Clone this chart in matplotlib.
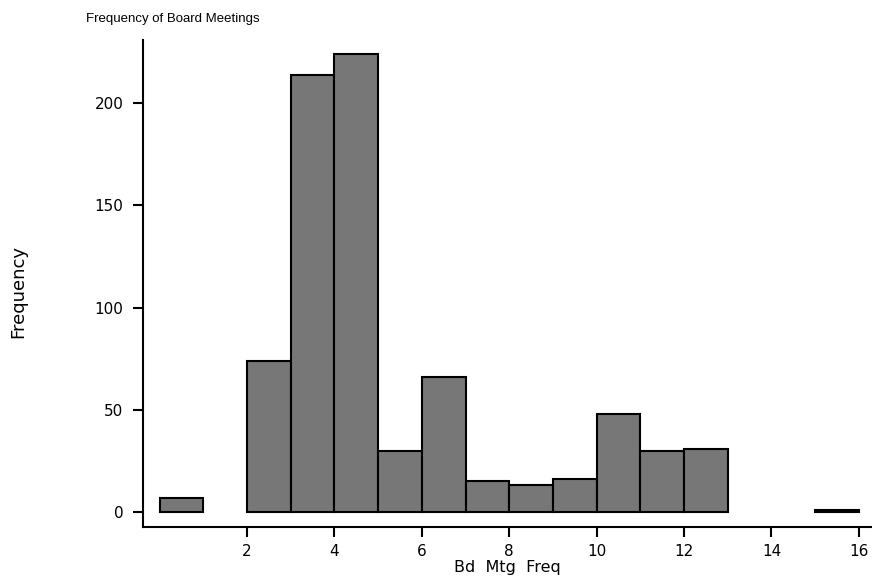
import numpy as np
import matplotlib.pyplot as plt

plt.rcParams['font.family'] = ['DejaVu Sans']

# histogram of board meeting frequency, bins of width 1 from 0 to 16
bin_edges = np.arange(0, 17)
counts = [7, 0, 74, 214, 224, 30, 66, 15, 13, 16, 48, 30, 31, 0, 0, 1]
x_ticks = [2, 4, 6, 8, 10, 12, 14, 16]
y_ticks = [0, 50, 100, 150, 200]

fig = plt.figure(figsize=(8.72, 5.77), dpi=100)
ax = fig.add_axes([0.164, 0.0867, 0.836, 0.844])

left = np.array(bin_edges[:-1])
counts = np.array(counts)
keep = counts > 0
ax.bar(left[keep], counts[keep], width=1, align='edge',
       color='#777777', edgecolor='black', linewidth=1.5)

ax.set_xlim(-0.38, 16.3)
ax.set_ylim(-7.4, 231)
ax.set_xticks(x_ticks)
ax.set_yticks(y_ticks)
ax.tick_params(direction='out', length=7.5, width=1.5, labelsize=11)
ax.tick_params(axis='y', pad=6.5)
ax.tick_params(axis='x', pad=4.5)

for s in ['top', 'right']:
    ax.spines[s].set_visible(False)
for s in ['left', 'bottom']:
    ax.spines[s].set_linewidth(1.5)

fig.text(0.0985, 0.967, 'Frequency of Board Meetings', fontsize=9.5,
         family='Liberation Sans', va='center', ha='left')
fig.text(0.021, 0.495, 'Frequency', fontsize=13, rotation=90, va='center', ha='center')
fig.text(0.582, 0.004, 'Bd  Mtg  Freq', fontsize=11.5, va='bottom', ha='center')

fig.savefig('out.png', dpi=100)
